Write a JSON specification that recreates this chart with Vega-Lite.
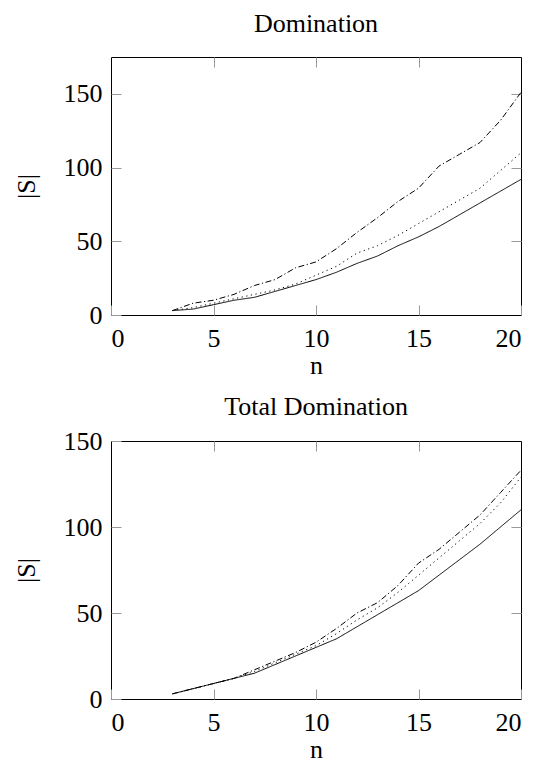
{
  "$schema": "https://vega.github.io/schema/vega-lite/v6.json",
  "padding": {"left": 12, "top": 10, "right": 5, "bottom": 0},
  "config": {
    "font": "Liberation Serif",
    "view": {"stroke": "black", "strokeWidth": 1},
    "axis": {
      "grid": false,
      "domain": false,
      "labelFont": "Liberation Serif",
      "labelFontSize": 26,
      "labelColor": "black",
      "titleFont": "Liberation Serif",
      "titleFontSize": 26,
      "titleFontWeight": "normal",
      "titleColor": "black",
      "tickColor": "#999999",
      "tickSize": -10
    },
    "axisX": {"labelPadding": 20, "titlePadding": 1},
    "axisY": {"labelPadding": 19, "titlePadding": 24},
    "title": {"font": "Liberation Serif", "fontSize": 26, "fontWeight": "normal", "color": "black", "offset": 20},
    "concat": {"spacing": 14}
  },
  "data": {"values": [
    {"panel": "D", "n": 3, "series": "a", "v": 3},
    {"panel": "D", "n": 4, "series": "a", "v": 4},
    {"panel": "D", "n": 5, "series": "a", "v": 7},
    {"panel": "D", "n": 6, "series": "a", "v": 10},
    {"panel": "D", "n": 7, "series": "a", "v": 12},
    {"panel": "D", "n": 8, "series": "a", "v": 16},
    {"panel": "D", "n": 9, "series": "a", "v": 20},
    {"panel": "D", "n": 10, "series": "a", "v": 24},
    {"panel": "D", "n": 11, "series": "a", "v": 29},
    {"panel": "D", "n": 12, "series": "a", "v": 35},
    {"panel": "D", "n": 13, "series": "a", "v": 40},
    {"panel": "D", "n": 14, "series": "a", "v": 47},
    {"panel": "D", "n": 15, "series": "a", "v": 53},
    {"panel": "D", "n": 16, "series": "a", "v": 60},
    {"panel": "D", "n": 17, "series": "a", "v": 68},
    {"panel": "D", "n": 18, "series": "a", "v": 76},
    {"panel": "D", "n": 19, "series": "a", "v": 84},
    {"panel": "D", "n": 20, "series": "a", "v": 92},
    {"panel": "D", "n": 3, "series": "b", "v": 3},
    {"panel": "D", "n": 4, "series": "b", "v": 5},
    {"panel": "D", "n": 5, "series": "b", "v": 8},
    {"panel": "D", "n": 6, "series": "b", "v": 11},
    {"panel": "D", "n": 7, "series": "b", "v": 14},
    {"panel": "D", "n": 8, "series": "b", "v": 17},
    {"panel": "D", "n": 9, "series": "b", "v": 21},
    {"panel": "D", "n": 10, "series": "b", "v": 27},
    {"panel": "D", "n": 11, "series": "b", "v": 33},
    {"panel": "D", "n": 12, "series": "b", "v": 42},
    {"panel": "D", "n": 13, "series": "b", "v": 47},
    {"panel": "D", "n": 14, "series": "b", "v": 54},
    {"panel": "D", "n": 15, "series": "b", "v": 62},
    {"panel": "D", "n": 16, "series": "b", "v": 70},
    {"panel": "D", "n": 17, "series": "b", "v": 78},
    {"panel": "D", "n": 18, "series": "b", "v": 86},
    {"panel": "D", "n": 19, "series": "b", "v": 98},
    {"panel": "D", "n": 20, "series": "b", "v": 110},
    {"panel": "D", "n": 3, "series": "c", "v": 3},
    {"panel": "D", "n": 4, "series": "c", "v": 8},
    {"panel": "D", "n": 5, "series": "c", "v": 10},
    {"panel": "D", "n": 6, "series": "c", "v": 14},
    {"panel": "D", "n": 7, "series": "c", "v": 20},
    {"panel": "D", "n": 8, "series": "c", "v": 24},
    {"panel": "D", "n": 9, "series": "c", "v": 32},
    {"panel": "D", "n": 10, "series": "c", "v": 36},
    {"panel": "D", "n": 11, "series": "c", "v": 45},
    {"panel": "D", "n": 12, "series": "c", "v": 56},
    {"panel": "D", "n": 13, "series": "c", "v": 66},
    {"panel": "D", "n": 14, "series": "c", "v": 77},
    {"panel": "D", "n": 15, "series": "c", "v": 86},
    {"panel": "D", "n": 16, "series": "c", "v": 101},
    {"panel": "D", "n": 17, "series": "c", "v": 109},
    {"panel": "D", "n": 18, "series": "c", "v": 117},
    {"panel": "D", "n": 19, "series": "c", "v": 132},
    {"panel": "D", "n": 20, "series": "c", "v": 151},
    {"panel": "T", "n": 3, "series": "a", "v": 3},
    {"panel": "T", "n": 4, "series": "a", "v": 6},
    {"panel": "T", "n": 5, "series": "a", "v": 9},
    {"panel": "T", "n": 6, "series": "a", "v": 12},
    {"panel": "T", "n": 7, "series": "a", "v": 15},
    {"panel": "T", "n": 8, "series": "a", "v": 20},
    {"panel": "T", "n": 9, "series": "a", "v": 25},
    {"panel": "T", "n": 10, "series": "a", "v": 30},
    {"panel": "T", "n": 11, "series": "a", "v": 35},
    {"panel": "T", "n": 12, "series": "a", "v": 42},
    {"panel": "T", "n": 13, "series": "a", "v": 49},
    {"panel": "T", "n": 14, "series": "a", "v": 56},
    {"panel": "T", "n": 15, "series": "a", "v": 63},
    {"panel": "T", "n": 16, "series": "a", "v": 72},
    {"panel": "T", "n": 17, "series": "a", "v": 81},
    {"panel": "T", "n": 18, "series": "a", "v": 90},
    {"panel": "T", "n": 19, "series": "a", "v": 100},
    {"panel": "T", "n": 20, "series": "a", "v": 110},
    {"panel": "T", "n": 3, "series": "b", "v": 3},
    {"panel": "T", "n": 4, "series": "b", "v": 6},
    {"panel": "T", "n": 5, "series": "b", "v": 9},
    {"panel": "T", "n": 6, "series": "b", "v": 12},
    {"panel": "T", "n": 7, "series": "b", "v": 16},
    {"panel": "T", "n": 8, "series": "b", "v": 21},
    {"panel": "T", "n": 9, "series": "b", "v": 26},
    {"panel": "T", "n": 10, "series": "b", "v": 31},
    {"panel": "T", "n": 11, "series": "b", "v": 38},
    {"panel": "T", "n": 12, "series": "b", "v": 46},
    {"panel": "T", "n": 13, "series": "b", "v": 53},
    {"panel": "T", "n": 14, "series": "b", "v": 62},
    {"panel": "T", "n": 15, "series": "b", "v": 72},
    {"panel": "T", "n": 16, "series": "b", "v": 82},
    {"panel": "T", "n": 17, "series": "b", "v": 92},
    {"panel": "T", "n": 18, "series": "b", "v": 102},
    {"panel": "T", "n": 19, "series": "b", "v": 114},
    {"panel": "T", "n": 20, "series": "b", "v": 129},
    {"panel": "T", "n": 3, "series": "c", "v": 3},
    {"panel": "T", "n": 4, "series": "c", "v": 6},
    {"panel": "T", "n": 5, "series": "c", "v": 9},
    {"panel": "T", "n": 6, "series": "c", "v": 12},
    {"panel": "T", "n": 7, "series": "c", "v": 17},
    {"panel": "T", "n": 8, "series": "c", "v": 22},
    {"panel": "T", "n": 9, "series": "c", "v": 27},
    {"panel": "T", "n": 10, "series": "c", "v": 33},
    {"panel": "T", "n": 11, "series": "c", "v": 41},
    {"panel": "T", "n": 12, "series": "c", "v": 50},
    {"panel": "T", "n": 13, "series": "c", "v": 56},
    {"panel": "T", "n": 14, "series": "c", "v": 66},
    {"panel": "T", "n": 15, "series": "c", "v": 79},
    {"panel": "T", "n": 16, "series": "c", "v": 87},
    {"panel": "T", "n": 17, "series": "c", "v": 97},
    {"panel": "T", "n": 18, "series": "c", "v": 107},
    {"panel": "T", "n": 19, "series": "c", "v": 120},
    {"panel": "T", "n": 20, "series": "c", "v": 133}
  ]},
  "vconcat": [
    {
      "title": "Domination",
      "width": 410,
      "height": 258,
      "transform": [{"filter": "datum.panel == 'D'"}],
      "layer": [
        {
          "mark": {"type": "line", "strokeWidth": 1, "color": "black"},
          "encoding": {
            "x": {"field": "n", "type": "quantitative", "scale": {"domain": [0, 20], "nice": false}, "axis": {"values": [0, 5, 10, 15, 20], "title": "n"}},
            "y": {"field": "v", "type": "quantitative", "scale": {"domain": [0, 175], "nice": false}, "axis": {"values": [0, 50, 100, 150], "title": "|S|"}},
            "strokeDash": {"field": "series", "type": "nominal", "scale": {"domain": ["a", "b", "c"], "range": [[1, 0], [1.2, 3.5], [6, 2.5, 1.2, 2.5]]}, "legend": null}
          }
        },
        {
          "mark": {"type": "line", "opacity": 0},
          "encoding": {
            "x": {"field": "n", "type": "quantitative", "scale": {"domain": [0, 20], "nice": false}, "axis": {"orient": "top", "values": [5, 10, 15], "labels": false, "title": null}},
            "y": {"field": "v", "type": "quantitative", "scale": {"domain": [0, 175], "nice": false}, "axis": {"orient": "right", "values": [50, 100, 150], "labels": false, "title": null}}
          }
        }
      ],
      "resolve": {"axis": {"x": "independent", "y": "independent"}}
    },
    {
      "title": {"text": "Total Domination", "offset": 8},
      "width": 410,
      "height": 258,
      "transform": [{"filter": "datum.panel == 'T'"}],
      "layer": [
        {
          "mark": {"type": "line", "strokeWidth": 1, "color": "black"},
          "encoding": {
            "x": {"field": "n", "type": "quantitative", "scale": {"domain": [0, 20], "nice": false}, "axis": {"values": [0, 5, 10, 15, 20], "title": "n"}},
            "y": {"field": "v", "type": "quantitative", "scale": {"domain": [0, 150], "nice": false}, "axis": {"values": [0, 50, 100, 150], "title": "|S|"}},
            "strokeDash": {"field": "series", "type": "nominal", "scale": {"domain": ["a", "b", "c"], "range": [[1, 0], [1.2, 3.5], [6, 2.5, 1.2, 2.5]]}, "legend": null}
          }
        },
        {
          "mark": {"type": "line", "opacity": 0},
          "encoding": {
            "x": {"field": "n", "type": "quantitative", "scale": {"domain": [0, 20], "nice": false}, "axis": {"orient": "top", "values": [5, 10, 15], "labels": false, "title": null}},
            "y": {"field": "v", "type": "quantitative", "scale": {"domain": [0, 150], "nice": false}, "axis": {"orient": "right", "values": [50, 100], "labels": false, "title": null}}
          }
        }
      ],
      "resolve": {"axis": {"x": "independent", "y": "independent"}}
    }
  ]
}
